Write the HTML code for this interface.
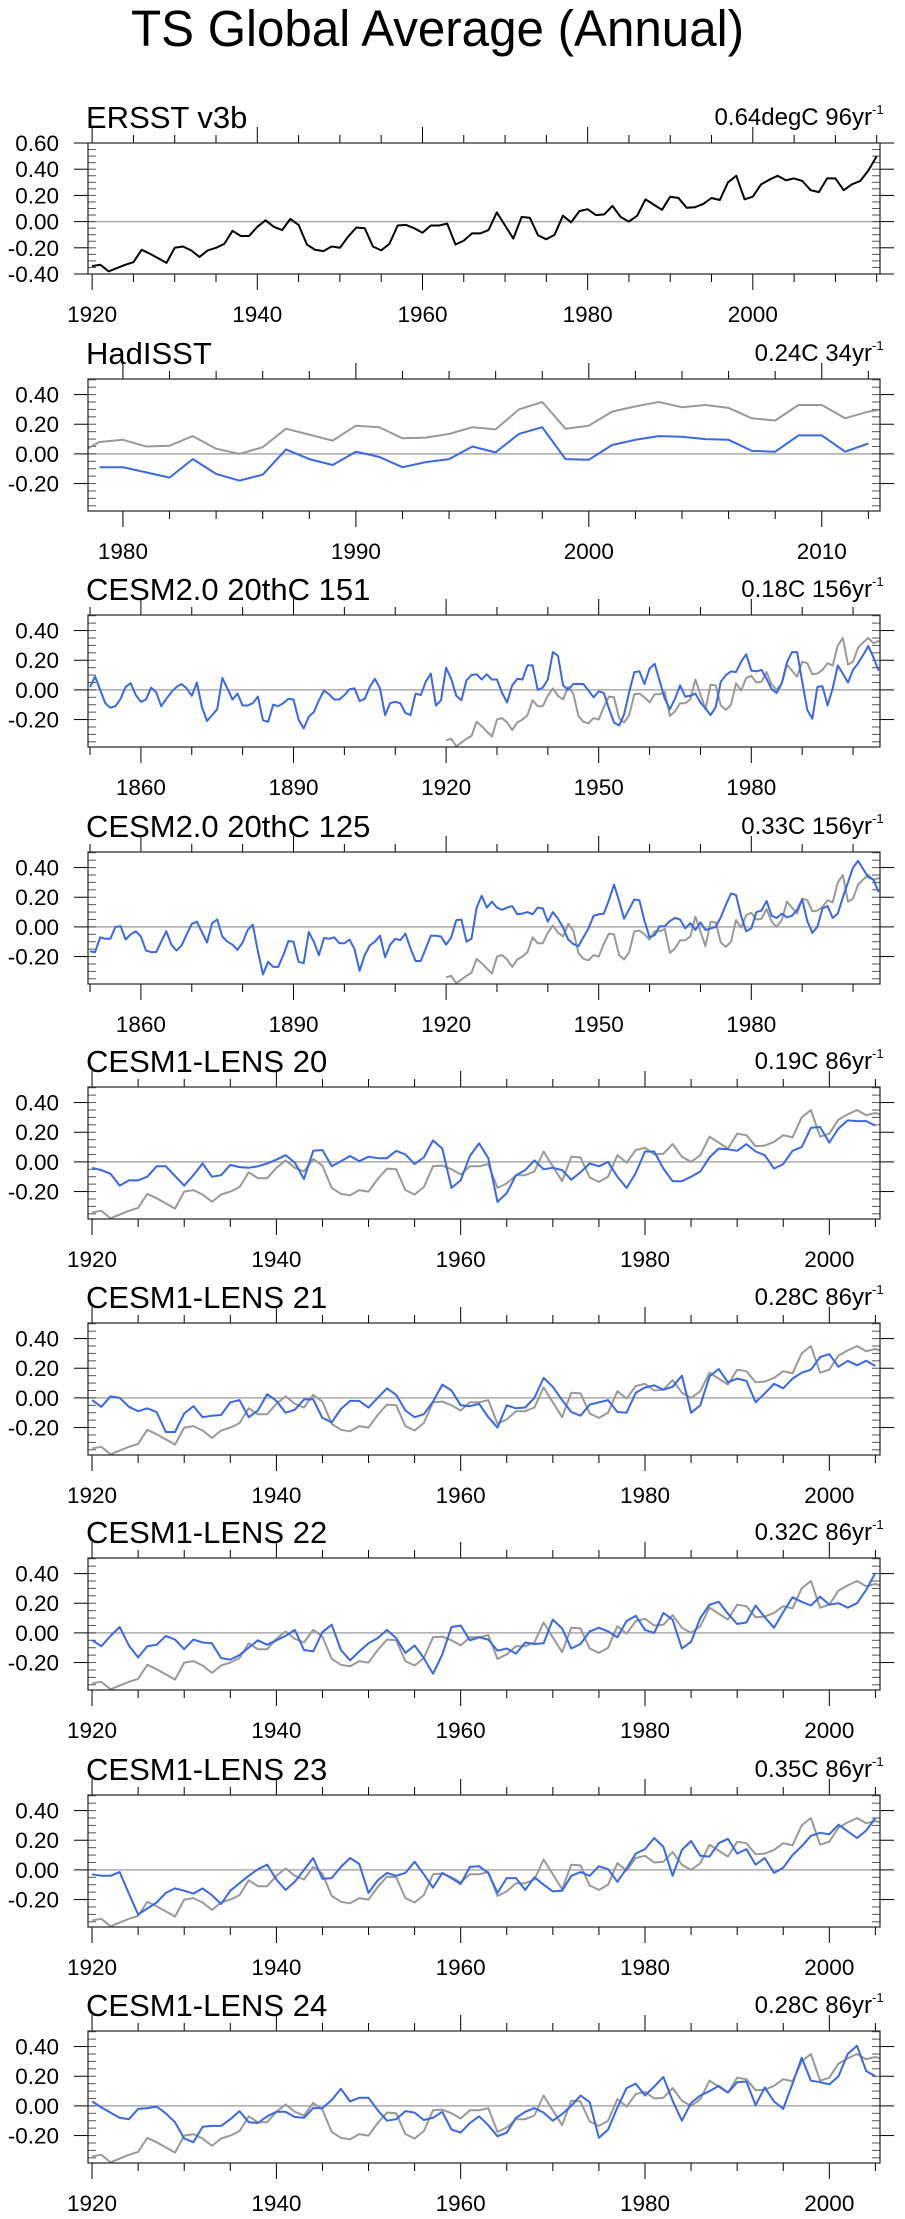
<!DOCTYPE html>
<html><head><meta charset="utf-8"><title>TS Global Average (Annual)</title>
<style>
html,body{margin:0;padding:0;background:#fff;}
svg{display:block;font-family:"Liberation Sans",Arial,sans-serif;}
</style></head>
<body>
<svg id="chart" width="905" height="2219" viewBox="0 0 905 2219" xmlns="http://www.w3.org/2000/svg">
<rect x="0" y="0" width="905" height="2219" fill="#fff"/>
<text x="131" y="46" font-size="51" textLength="613" lengthAdjust="spacingAndGlyphs">TS Global Average (Annual)</text>
</svg>
<script>
// ---- data ----
const ersstYears = [1920, 2015];
const ersst = [-0.34,-0.33,-0.38,-0.355,-0.33,-0.31,-0.215,-0.245,-0.28,-0.315,
-0.20,-0.19,-0.22,-0.27,-0.22,-0.20,-0.17,-0.07,-0.11,-0.11,
-0.04,0.01,-0.04,-0.065,0.02,-0.025,-0.175,-0.215,-0.225,-0.19,
-0.20,-0.115,-0.045,-0.05,-0.19,-0.22,-0.17,-0.03,-0.025,-0.05,
-0.085,-0.03,-0.03,-0.015,-0.175,-0.145,-0.09,-0.09,-0.065,0.07,
-0.03,-0.13,0.035,0.03,-0.105,-0.135,-0.10,0.045,-0.005,0.08,
0.095,0.05,0.055,0.12,0.035,0.0,0.045,0.17,0.13,0.09,
0.19,0.18,0.105,0.11,0.135,0.18,0.165,0.30,0.35,0.17,
0.19,0.285,0.32,0.35,0.315,0.33,0.31,0.24,0.225,0.33,
0.33,0.24,0.285,0.31,0.39,0.50];
const hadStart = 1979;
const hadisst = [-0.09,-0.09,-0.125,-0.16,-0.035,-0.135,-0.18,-0.14,0.03,-0.035,
-0.075,0.015,-0.02,-0.09,-0.055,-0.035,0.05,0.01,0.135,0.18,
-0.035,-0.04,0.06,0.095,0.12,0.115,0.10,0.095,0.02,0.015,
0.125,0.125,0.015,0.07];
const cesm2Start = 1850;
const cesm151 = [0.02,0.09,0.0,-0.09,-0.12,-0.11,-0.06,0.02,0.045,-0.035,
-0.08,-0.065,0.015,-0.015,-0.11,-0.06,-0.015,0.02,0.04,0.01,
-0.04,0.05,-0.115,-0.21,-0.17,-0.13,0.08,0.01,-0.065,-0.025,
-0.105,-0.105,-0.09,-0.045,-0.205,-0.215,-0.10,-0.11,-0.09,-0.06,
-0.065,-0.20,-0.26,-0.18,-0.15,-0.07,-0.005,-0.03,-0.065,-0.065,
-0.035,0.005,0.01,-0.075,-0.06,0.02,0.075,0.01,-0.17,-0.09,
-0.08,-0.09,-0.155,-0.17,-0.025,-0.035,0.055,0.11,-0.105,-0.07,
0.15,0.075,-0.04,-0.07,0.065,0.10,0.105,0.07,0.105,0.07,
0.07,-0.02,-0.085,0.03,0.075,0.07,0.165,0.165,0.0,0.015,
0.07,0.255,0.23,0.03,0.0,0.04,0.04,0.04,-0.005,-0.05,
-0.01,-0.02,-0.125,-0.22,-0.24,-0.165,-0.015,0.12,0.125,0.04,
0.145,0.175,0.06,-0.06,-0.13,-0.06,0.03,-0.045,-0.04,-0.025,
-0.085,-0.125,-0.17,-0.115,0.055,0.10,0.125,0.12,0.19,0.24,
0.13,0.125,0.135,0.075,0.005,-0.02,0.045,0.185,0.255,0.255,
0.055,-0.135,-0.195,0.02,0.025,-0.105,0.01,0.165,0.11,0.05,
0.135,0.18,0.235,0.295,0.22,0.13];
const cesm125 = [-0.165,-0.17,-0.07,-0.08,-0.08,0.0,0.005,-0.085,-0.05,-0.03,
-0.065,-0.16,-0.17,-0.17,-0.10,-0.03,-0.12,-0.16,-0.125,-0.05,
0.02,0.035,-0.035,-0.105,0.025,0.05,-0.065,-0.10,-0.12,-0.155,
-0.105,-0.02,0.015,-0.165,-0.32,-0.235,-0.27,-0.27,-0.19,-0.095,
-0.10,-0.235,-0.245,-0.035,-0.10,-0.19,-0.075,-0.08,-0.07,-0.11,
-0.11,-0.085,-0.15,-0.295,-0.19,-0.125,-0.10,-0.06,-0.205,-0.12,
-0.08,-0.09,-0.045,-0.145,-0.23,-0.23,-0.145,-0.06,-0.06,-0.065,
-0.12,-0.07,0.045,0.05,-0.10,-0.08,0.13,0.21,0.13,0.17,
0.13,0.115,0.13,0.14,0.085,0.09,0.10,0.085,0.13,0.125,
0.035,0.10,0.055,-0.005,-0.085,-0.115,-0.13,-0.07,-0.01,0.075,
0.085,0.09,0.18,0.285,0.175,0.055,0.12,0.185,0.18,0.04,
-0.07,-0.055,0.005,0.005,0.04,0.06,0.05,-0.01,0.025,-0.02,
0.03,-0.02,-0.01,0.0,0.065,0.15,0.225,0.215,0.075,-0.03,
-0.01,0.10,0.11,0.175,0.075,0.06,0.09,0.065,0.075,0.115,
0.185,0.04,-0.04,0.0,0.125,0.14,0.06,0.09,0.20,0.30,
0.40,0.445,0.39,0.335,0.32,0.235];
const lensStart = 1920;
const lens20 = [-0.04,-0.055,-0.08,-0.16,-0.125,-0.125,-0.10,-0.03,-0.03,-0.095,
-0.16,-0.09,-0.01,-0.10,-0.09,-0.02,-0.035,-0.04,-0.03,-0.01,
0.015,0.045,-0.005,-0.115,0.075,0.08,-0.03,0.005,0.04,0.005,
0.035,0.025,0.025,0.075,0.05,-0.015,0.03,0.145,0.09,-0.175,
-0.125,0.04,0.125,0.025,-0.27,-0.21,-0.09,-0.055,0.01,-0.05,
-0.04,-0.055,-0.12,-0.07,-0.01,-0.03,0.0,-0.10,-0.175,-0.075,
0.07,0.07,-0.045,-0.13,-0.13,-0.10,-0.065,0.03,0.09,0.085,
0.075,0.12,0.07,0.045,-0.045,-0.015,0.075,0.10,0.23,0.235,
0.13,0.225,0.28,0.275,0.275,0.245];
const lens21 = [-0.015,-0.06,0.01,0.0,-0.06,-0.09,-0.07,-0.095,-0.23,-0.23,
-0.105,-0.055,-0.13,-0.12,-0.115,-0.03,-0.015,-0.13,-0.085,0.025,
-0.02,-0.10,-0.08,-0.01,-0.01,-0.135,-0.165,-0.075,-0.02,-0.02,
-0.065,0.0,0.065,0.02,-0.085,-0.13,-0.11,-0.025,0.09,0.05,
-0.05,-0.055,-0.04,-0.13,-0.20,-0.05,-0.07,-0.065,0.0,0.135,
0.075,-0.015,-0.095,-0.12,-0.045,-0.03,-0.015,-0.095,-0.10,0.035,
0.07,0.085,0.055,0.075,0.15,-0.10,-0.05,0.145,0.195,0.105,
0.13,0.115,-0.03,0.03,0.095,0.065,0.13,0.17,0.19,0.275,
0.295,0.21,0.25,0.22,0.25,0.215];
const lens22 = [-0.05,-0.09,-0.02,0.04,-0.085,-0.165,-0.09,-0.08,-0.02,-0.045,
-0.11,-0.045,-0.065,-0.07,-0.17,-0.18,-0.15,-0.10,-0.05,-0.08,
-0.05,-0.02,0.02,-0.115,-0.125,0.005,0.055,-0.115,-0.185,-0.125,
-0.07,-0.035,0.02,-0.035,-0.135,-0.085,-0.17,-0.275,-0.145,0.04,
0.05,-0.05,-0.03,-0.045,-0.12,-0.105,-0.14,-0.065,-0.075,-0.07,
0.09,0.03,-0.105,-0.075,0.01,0.035,0.01,-0.03,0.08,0.115,
0.02,0.0,0.135,0.09,-0.105,-0.06,0.10,0.19,0.21,0.13,
0.06,0.07,0.185,0.105,0.035,0.14,0.24,0.21,0.185,0.245,
0.19,0.20,0.17,0.20,0.29,0.405];
const lens23 = [-0.03,-0.04,-0.04,-0.015,-0.16,-0.30,-0.26,-0.22,-0.155,-0.125,
-0.14,-0.16,-0.125,-0.17,-0.23,-0.14,-0.09,-0.04,0.005,0.035,
-0.065,-0.135,-0.08,0.0,0.08,-0.06,-0.055,0.02,0.08,0.04,
-0.155,-0.07,-0.02,-0.04,-0.02,0.055,-0.03,-0.12,-0.02,-0.055,
-0.095,0.02,0.025,-0.02,-0.155,-0.055,-0.055,-0.135,-0.05,-0.10,
-0.145,-0.14,-0.04,-0.015,-0.04,0.025,0.005,-0.08,0.01,0.11,
0.14,0.215,0.155,-0.04,0.135,0.195,0.095,0.09,0.18,0.21,
0.11,0.14,0.035,0.08,-0.02,0.015,0.10,0.16,0.23,0.25,
0.24,0.305,0.26,0.215,0.265,0.35];
const lens24 = [0.03,-0.01,-0.045,-0.08,-0.09,-0.02,-0.015,-0.005,-0.05,-0.11,
-0.22,-0.245,-0.14,-0.135,-0.135,-0.09,-0.035,-0.11,-0.115,-0.07,
-0.04,-0.04,-0.075,-0.08,-0.015,-0.015,0.04,0.115,0.03,0.055,
0.055,-0.03,-0.10,-0.09,-0.035,-0.045,-0.095,-0.08,-0.04,-0.16,
-0.18,-0.115,-0.07,-0.13,-0.205,-0.18,-0.08,-0.04,-0.015,-0.045,
-0.10,-0.055,0.0,0.07,0.025,-0.215,-0.16,-0.01,0.12,0.15,
0.07,0.13,0.195,0.035,-0.10,0.02,0.07,0.10,0.135,0.09,
0.16,0.165,0.005,0.125,0.03,-0.02,0.15,0.325,0.17,0.16,
0.145,0.20,0.35,0.405,0.235,0.20];
const panelTitles = ["ERSST v3b","HadISST","CESM2.0 20thC 151","CESM2.0 20thC 125","CESM1-LENS 20","CESM1-LENS 21","CESM1-LENS 22","CESM1-LENS 23","CESM1-LENS 24"];
const trendLabels = ["0.64degC 96yr","0.24C 34yr","0.18C 156yr","0.33C 156yr","0.19C 86yr","0.28C 86yr","0.32C 86yr","0.35C 86yr","0.28C 86yr"];
const yTicksTop = [0.6,0.4,0.2,0.0,-0.2,-0.4];
const yTicksRest = [0.4,0.2,0.0,-0.2];

// ---- layout (not data) ----
const NS = "http://www.w3.org/2000/svg";
const svg = document.getElementById('chart');
const BL = 88, BR = 880;
const BLUE = "#3b68e0", GREY = "#999999";
const panels = [
 {top:143,h:131,x0:1919.5,x1:2015.4,maj:20,min:5,first:1920,ylo:-0.4,yhi:0.6,yt:yTicksTop,series:[{d:ersst,s:ersstYears[0],c:"#000",n:"ersst-line"}]},
 {top:379,h:132,x0:1978.5,x1:2012.5,maj:10,min:2,first:1980,ylo:-0.385,yhi:0.505,yt:yTicksRest,series:[{d:ersst,s:ersstYears[0],c:GREY,n:"obs-line"},{d:hadisst,s:hadStart,c:BLUE,n:"hadisst-line"}]},
 {top:615,h:132,x0:1849.6,x1:2005.3,maj:30,min:10,first:1860,ylo:-0.385,yhi:0.505,yt:yTicksRest,series:[{d:ersst,s:ersstYears[0],c:GREY,n:"obs-line"},{d:cesm151,s:cesm2Start,c:BLUE,n:"model-line"}]},
 {top:852,h:132,x0:1849.6,x1:2005.3,maj:30,min:10,first:1860,ylo:-0.385,yhi:0.505,yt:yTicksRest,series:[{d:ersst,s:ersstYears[0],c:GREY,n:"obs-line"},{d:cesm125,s:cesm2Start,c:BLUE,n:"model-line"}]},
 {top:1087,h:132,x0:1919.56,x1:2005.5,maj:20,min:5,first:1920,ylo:-0.385,yhi:0.505,yt:yTicksRest,series:[{d:ersst,s:ersstYears[0],c:GREY,n:"obs-line"},{d:lens20,s:lensStart,c:BLUE,n:"model-line"}]},
 {top:1323,h:132,x0:1919.56,x1:2005.5,maj:20,min:5,first:1920,ylo:-0.385,yhi:0.505,yt:yTicksRest,series:[{d:ersst,s:ersstYears[0],c:GREY,n:"obs-line"},{d:lens21,s:lensStart,c:BLUE,n:"model-line"}]},
 {top:1558,h:132,x0:1919.56,x1:2005.5,maj:20,min:5,first:1920,ylo:-0.385,yhi:0.505,yt:yTicksRest,series:[{d:ersst,s:ersstYears[0],c:GREY,n:"obs-line"},{d:lens22,s:lensStart,c:BLUE,n:"model-line"}]},
 {top:1795,h:132,x0:1919.56,x1:2005.5,maj:20,min:5,first:1920,ylo:-0.385,yhi:0.505,yt:yTicksRest,series:[{d:ersst,s:ersstYears[0],c:GREY,n:"obs-line"},{d:lens23,s:lensStart,c:BLUE,n:"model-line"}]},
 {top:2031,h:132,x0:1919.56,x1:2005.5,maj:20,min:5,first:1920,ylo:-0.385,yhi:0.505,yt:yTicksRest,series:[{d:ersst,s:ersstYears[0],c:GREY,n:"obs-line"},{d:lens24,s:lensStart,c:BLUE,n:"model-line"}]}
];
function mk(tag, attrs, parent){
  const e = document.createElementNS(NS, tag);
  for (const k in attrs) e.setAttribute(k, attrs[k]);
  (parent||svg).appendChild(e);
  return e;
}
panels.forEach(function(p, i){
  const g = mk('g', {});
  
  
  const bot = p.top + p.h;
  const xs = v => BL + (v - p.x0) / (p.x1 - p.x0) * (BR - BL);
  const ys = v => bot - (v - p.ylo) / (p.yhi - p.ylo) * p.h;
  const cp = mk('clipPath', {id:'clip'+i}, g);
  mk('rect', {x:BL, y:p.top, width:BR-BL, height:p.h}, cp);
  const t = mk('text', {x:BL-2, y:p.top-15, 'font-size':31}, g);
  
  
  t.textContent = panelTitles[i];
  const r = mk('text', {x:BR-8, y:p.top-18, 'font-size':24, 'text-anchor':'end'}, g);
  
  
  r.textContent = trendLabels[i];
  const sup = mk('text', {x:BR-8, y:p.top-29, 'font-size':13}, g);
  
  
  sup.textContent = '-1';
  const z = mk('line', {x1:BL, x2:BR, y1:ys(0), y2:ys(0), stroke:'#aaa', 'stroke-width':1.5}, g);
  
  
  const startMin = Math.ceil(p.x0 / p.min) * p.min;
  for (let yr = startMin; yr <= p.x1; yr += p.min) {
    const isMaj = ((yr - p.first) % p.maj === 0);
    const x = xs(yr), L = isMaj ? 16 : 8;
    mk('line', {x1:x, x2:x, y1:bot, y2:bot+L, stroke:'#000', 'stroke-width':1}, g);
    mk('line', {x1:x, x2:x, y1:p.top, y2:p.top-L, stroke:'#000', 'stroke-width':1}, g);
    if (isMaj) {
      const lb = mk('text', {x:x, y:bot+48, 'font-size':22.5, 'text-anchor':'middle'}, g);
      
      
      lb.textContent = String(yr);
    }
  }
  for (let k = Math.ceil(p.ylo/0.05 - 1e-9); k*0.05 <= p.yhi + 1e-9; k++) {
    const y = ys(k*0.05);
    mk('line', {x1:BL, x2:BL+8, y1:y, y2:y, stroke:'#555', 'stroke-width':1}, g);
    mk('line', {x1:BR-8, x2:BR, y1:y, y2:y, stroke:'#555', 'stroke-width':1}, g);
  }
  p.yt.forEach(function(v){
    const y = ys(v);
    mk('line', {x1:BL-14, x2:BL, y1:y, y2:y, stroke:'#000', 'stroke-width':1}, g);
    mk('line', {x1:BR, x2:BR+14, y1:y, y2:y, stroke:'#000', 'stroke-width':1}, g);
    const lb = mk('text', {x:59, y:y+8, 'font-size':22.5, 'text-anchor':'end'}, g);
    
    
    lb.textContent = v.toFixed(2);
  });
  p.series.forEach(function(s){
    const pts = s.d.map((v, j) => xs(s.s + j).toFixed(1) + ',' + ys(v).toFixed(1)).join(' ');
    const pl = mk('polyline', {points:pts, fill:'none', stroke:s.c, 'stroke-width':2, 'stroke-linejoin':'round', 'clip-path':'url(#clip'+i+')'}, g);
    
    
  });
  const fr = mk('rect', {x:BL, y:p.top, width:BR-BL, height:p.h, fill:'none', stroke:'#222', 'stroke-width':1.2}, g);
  
  
});
</script>
</body></html>
